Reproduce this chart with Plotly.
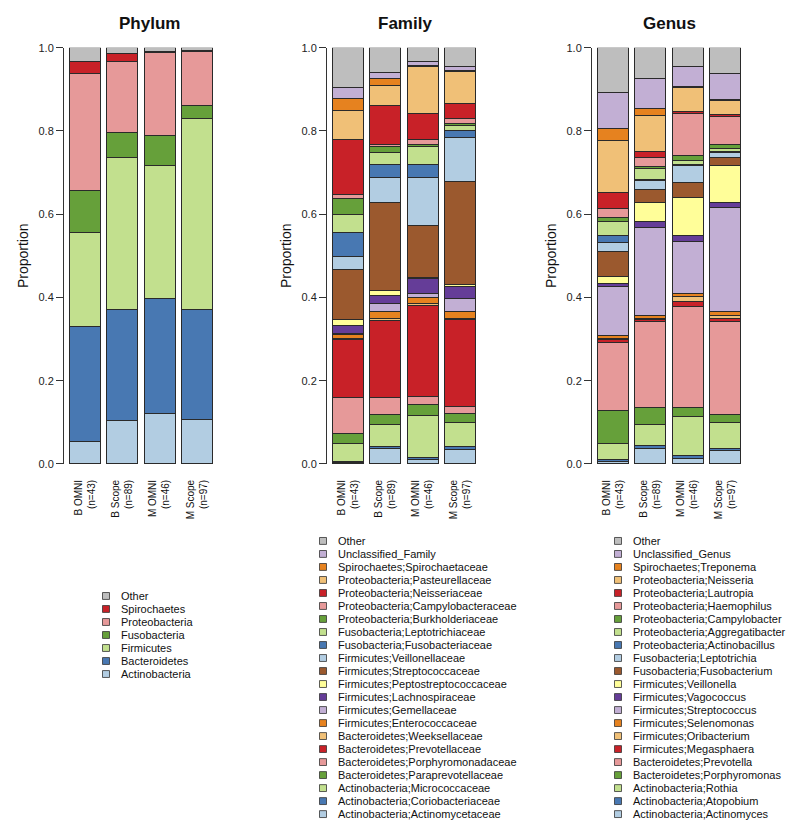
import plotly.graph_objects as go

# ---------------- data ----------------
groups = ["B OMNI", "B Scope", "M OMNI", "M Scope"]
group_n = [43, 89, 46, 97]

phylum_names = ["Actinobacteria", "Bacteroidetes", "Firmicutes", "Fusobacteria",
                "Proteobacteria", "Spirochaetes", "Other"]
phylum_values = [
    [0.054, 0.104, 0.120, 0.106],
    [0.275, 0.267, 0.278, 0.266],
    [0.228, 0.364, 0.318, 0.458],
    [0.099, 0.061, 0.072, 0.031],
    [0.281, 0.170, 0.201, 0.131],
    [0.030, 0.020, 0.002, 0.001],
    [0.033, 0.014, 0.009, 0.007],
]

family_names = [
    "Actinobacteria;Actinomycetaceae", "Actinobacteria;Coriobacteriaceae",
    "Actinobacteria;Micrococcaceae", "Bacteroidetes;Paraprevotellaceae",
    "Bacteroidetes;Porphyromonadaceae", "Bacteroidetes;Prevotellaceae",
    "Bacteroidetes;Weeksellaceae", "Firmicutes;Enterococcaceae",
    "Firmicutes;Gemellaceae", "Firmicutes;Lachnospiraceae",
    "Firmicutes;Peptostreptococcaceae", "Firmicutes;Streptococcaceae",
    "Firmicutes;Veillonellaceae", "Fusobacteria;Fusobacteriaceae",
    "Fusobacteria;Leptotrichiaceae", "Proteobacteria;Burkholderiaceae",
    "Proteobacteria;Campylobacteraceae", "Proteobacteria;Neisseriaceae",
    "Proteobacteria;Pasteurellaceae", "Spirochaetes;Spirochaetaceae",
    "Unclassified_Family", "Other",
]
family_values = [
    [0.003, 0.038, 0.010, 0.034],
    [0.003, 0.005, 0.006, 0.008],
    [0.042, 0.052, 0.100, 0.058],
    [0.024, 0.024, 0.026, 0.022],
    [0.087, 0.041, 0.021, 0.017],
    [0.140, 0.185, 0.218, 0.207],
    [0.003, 0.005, 0.005, 0.004],
    [0.008, 0.015, 0.013, 0.016],
    [0.004, 0.020, 0.010, 0.032],
    [0.019, 0.020, 0.036, 0.029],
    [0.014, 0.012, 0.002, 0.003],
    [0.119, 0.212, 0.126, 0.249],
    [0.033, 0.058, 0.115, 0.106],
    [0.058, 0.032, 0.032, 0.016],
    [0.042, 0.028, 0.043, 0.012],
    [0.039, 0.016, 0.004, 0.006],
    [0.010, 0.005, 0.012, 0.010],
    [0.132, 0.093, 0.064, 0.038],
    [0.068, 0.047, 0.111, 0.075],
    [0.029, 0.017, 0.002, 0.004],
    [0.028, 0.016, 0.011, 0.009],
    [0.095, 0.059, 0.033, 0.045],
]

genus_names = [
    "Actinobacteria;Actinomyces", "Actinobacteria;Atopobium", "Actinobacteria;Rothia",
    "Bacteroidetes;Porphyromonas", "Bacteroidetes;Prevotella", "Firmicutes;Megasphaera",
    "Firmicutes;Oribacterium", "Firmicutes;Selenomonas", "Firmicutes;Streptococcus",
    "Firmicutes;Vagococcus", "Firmicutes;Veillonella", "Fusobacteria;Fusobacterium",
    "Fusobacteria;Leptotrichia", "Proteobacteria;Actinobacillus",
    "Proteobacteria;Aggregatibacter", "Proteobacteria;Campylobacter",
    "Proteobacteria;Haemophilus", "Proteobacteria;Lautropia", "Proteobacteria;Neisseria",
    "Spirochaetes;Treponema", "Unclassified_Genus", "Other",
]
genus_values = [
    [0.006, 0.038, 0.012, 0.032],
    [0.004, 0.006, 0.008, 0.006],
    [0.038, 0.051, 0.095, 0.062],
    [0.080, 0.040, 0.020, 0.018],
    [0.164, 0.206, 0.243, 0.224],
    [0.006, 0.005, 0.011, 0.008],
    [0.004, 0.004, 0.012, 0.007],
    [0.006, 0.007, 0.008, 0.010],
    [0.118, 0.212, 0.126, 0.248],
    [0.007, 0.014, 0.013, 0.014],
    [0.018, 0.044, 0.093, 0.088],
    [0.059, 0.032, 0.034, 0.018],
    [0.023, 0.022, 0.042, 0.013],
    [0.016, 0.002, 0.002, 0.003],
    [0.034, 0.026, 0.009, 0.006],
    [0.010, 0.006, 0.012, 0.010],
    [0.020, 0.020, 0.101, 0.068],
    [0.038, 0.016, 0.006, 0.005],
    [0.126, 0.086, 0.058, 0.033],
    [0.029, 0.016, 0.002, 0.002],
    [0.087, 0.072, 0.048, 0.062],
    [0.107, 0.075, 0.045, 0.063],
]

panel_titles = ["Phylum", "Family", "Genus"]
y_ticks = [0.0, 0.2, 0.4, 0.6, 0.8, 1.0]

# ---------------- styles ----------------
palette = ["#B2CDE2", "#4878B2", "#C2E08E", "#66A03A", "#E69999", "#C82128",
           "#F0C077", "#E6821F", "#C2AFD4", "#653D98", "#FFFE99", "#9B592E"]
other_color = "#BEBEBE"
FONT = "Liberation Sans, Arial, Helvetica, sans-serif"
W, H = 800, 830

# vertical placement helper (compensates the capture's vertical mapping)
def py(y):
    return (y - 5.35) / 0.985

def colors_for(names):
    cols = []
    i = 0
    for n in names:
        if n == "Other":
            cols.append(other_color)
        else:
            cols.append(palette[i % len(palette)])
            i += 1
    return cols

panels = [
    (phylum_names, phylum_values),
    (family_names, family_values),
    (genus_names, genus_values),
]
x_domains_px = [(64, 218), (327, 481), (592, 746)]
y_domain = [1 - py(463) / H, 1 - py(47) / H]
title_x_px = [149.5, 405, 669]
legend_text_x = [119, 336, 631]
legend_y0 = [595, 540, 540]
legend_step = [13.0, 13.0, 13.0]

xpos = list(range(len(groups)))
xticktext = [f"{g}<br>(n={n})" for g, n in zip(groups, group_n)]

fig = go.Figure()
annotations = []
shapes = []

for p, (names, values) in enumerate(panels):
    cols = colors_for(names)
    xa = "x" if p == 0 else f"x{p+1}"
    ya = "y" if p == 0 else f"y{p+1}"
    for name, vals, c in zip(names, values, cols):
        fig.add_trace(go.Bar(
            x=xpos, y=vals, name=name, xaxis=xa, yaxis=ya,
            width=1 / 1.2, marker=dict(color=c, line=dict(color="#2a2a2a", width=1)),
            showlegend=False, cliponaxis=False,
            hovertemplate=name + ": %{y:.3f}<extra></extra>",
        ))
    d0, d1 = x_domains_px[p]
    xkey = "xaxis" if p == 0 else f"xaxis{p+1}"
    ykey = "yaxis" if p == 0 else f"yaxis{p+1}"
    fig.update_layout({
        xkey: dict(domain=[d0 / W, d1 / W], range=[-0.57, 3.57], anchor=ya,
                   tickmode="array", tickvals=xpos, ticktext=xticktext,
                   tickangle=-90, ticks="outside", ticklen=11,
                   tickcolor="rgba(0,0,0,0)", showline=False, showgrid=False,
                   zeroline=False, tickfont=dict(size=10, color="#111", family=FONT)),
        ykey: dict(domain=y_domain, range=[0, 1], anchor=xa,
                   tickmode="array", tickvals=y_ticks,
                   ticktext=[f"{v:.1f}" for v in y_ticks],
                   ticks="outside", ticklen=7, tickcolor="#333", tickwidth=1,
                   showline=True, linecolor="#333", linewidth=1,
                   showgrid=False, zeroline=False,
                   tickfont=dict(size=11, color="#222", family=FONT),
                   title=dict(text="Proportion", standoff=6,
                              font=dict(size=14, color="#111", family=FONT))),
    })
    annotations.append(dict(
        text=f"<b>{panel_titles[p]}</b>", x=title_x_px[p] / W, y=1 - py(23) / H,
        xref="paper", yref="paper", showarrow=False, xanchor="center", yanchor="middle",
        font=dict(size=17, color="#111", family=FONT)))
    tx = legend_text_x[p]
    for k, (name, c) in enumerate(zip(names[::-1], cols[::-1])):
        yc = py(legend_y0[p] + k * legend_step[p])
        annotations.append(dict(
            text=name, x=tx / W, y=1 - yc / H, xref="paper", yref="paper",
            showarrow=False, xanchor="left", yanchor="middle",
            font=dict(size=11, color="#111", family=FONT)))
        sx = tx - 13
        shapes.append(dict(
            type="rect", xref="paper", yref="paper",
            x0=(sx - 3.5) / W, x1=(sx + 3.5) / W,
            y0=1 - (yc + 3.5) / H, y1=1 - (yc - 3.5) / H,
            fillcolor=c, line=dict(color="#333", width=0.8)))

fig.update_layout(
    width=W, height=H, barmode="stack", showlegend=False,
    margin=dict(l=0, r=0, t=0, b=0),
    paper_bgcolor="white", plot_bgcolor="white",
    font=dict(family=FONT, color="#111"),
    annotations=annotations, shapes=shapes,
)

fig.write_html(
    "out.html",
    config={"displayModeBar": False},
    post_script="document.body.style.margin='0';document.body.style.overflow='hidden';",
)
